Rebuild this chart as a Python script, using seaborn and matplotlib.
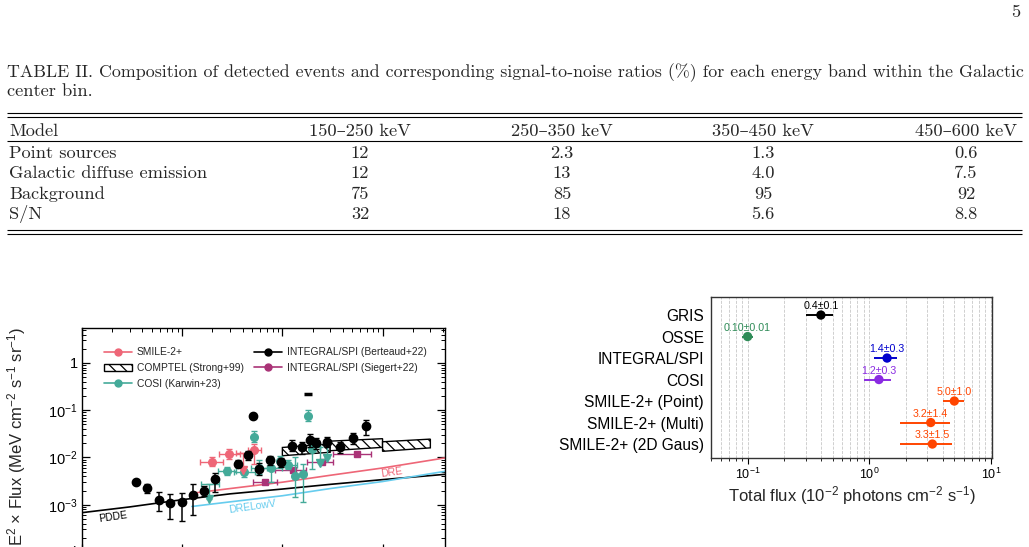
import numpy as np
import pandas as pd
import seaborn as sns
import matplotlib.pyplot as plt
from matplotlib.patches import Polygon, Patch
from matplotlib.lines import Line2D
from matplotlib.ticker import LogLocator, FuncFormatter, NullFormatter

sns.set_theme(style="ticks")
plt.rcParams.update({
    'font.family': ['Liberation Sans', 'DejaVu Sans'],
    'mathtext.fontset': 'custom',
    'mathtext.rm': 'Liberation Sans',
    'mathtext.it': 'Liberation Sans:italic',
    'mathtext.bf': 'Liberation Sans:bold',
    'hatch.linewidth': 0.9,
    'axes.edgecolor': 'black',
    'xtick.color': 'black',
    'ytick.color': 'black',
})

# ---------------- table data ----------------
caption = ["TABLE II. Composition of detected events and corresponding signal-to-noise ratios (%) "
           "for each energy band within the Galactic",
           "center bin."]
bands = ["150–250 keV", "250–350 keV", "350–450 keV", "450–600 keV"]
models = ["Point sources", "Galactic diffuse emission", "Background", "S/N"]
tab_vals = [["12", "2.3", "1.3", "0.6"],
            ["12", "13", "4.0", "7.5"],
            ["75", "85", "95", "92"],
            ["32", "18", "5.6", "8.8"]]

# ---------------- left panel data (E in MeV, E^2 flux) ----------------
spi_E = [0.0343, 0.045, 0.059, 0.0757, 0.100, 0.128, 0.167, 0.215, 0.361, 0.457, 0.504,
         0.587, 0.75, 0.96, 1.24, 1.58, 1.88, 2.19, 2.82, 3.8, 5.06, 6.87]
spi_F = [3.0e-3, 2.23e-3, 1.29e-3, 1.1e-3, 1.14e-3, 1.62e-3, 1.93e-3, 3.47e-3, 7.4e-3, 0.0115, 0.077,
         5.75e-3, 8.9e-3, 7.9e-3, 0.0179, 0.0164, 0.0239, 0.020, 0.0217, 0.0164, 0.0255, 0.047]
spi_lo = [3.0e-3, 1.76e-3, 7.5e-4, 5.0e-4, 4.6e-4, 6.2e-4, 1.55e-3, 1.9e-3, 6.2e-3, 8.9e-3, 0.077,
          4.2e-3, 6.8e-3, 6.2e-3, 0.0135, 0.0118, 0.0164, 0.0152, 0.0164, 0.0122, 0.0194, 0.0305]
spi_hi = [3.0e-3, 2.8e-3, 1.9e-3, 1.65e-3, 1.8e-3, 2.7e-3, 2.55e-3, 4.8e-3, 8.9e-3, 0.0139, 0.077,
          7.7e-3, 0.011, 9.8e-3, 0.0236, 0.021, 0.032, 0.0259, 0.0267, 0.0209, 0.0327, 0.0624]
spi_cap_E = [1.79]
spi_cap_F = [0.22]

smile_E = [0.20, 0.296, 0.524]
smile_Elo = [0.151, 0.232, 0.45]
smile_Ehi = [0.258, 0.378, 0.61]
smile_F = [8.2e-3, 0.0119, 0.0147]
smile_lo = [6.5e-3, 9.3e-3, 7.4e-3]
smile_hi = [0.0101, 0.0152, 0.0197]
smile_ul_E = [0.40]
smile_ul_Elo = [0.345]
smile_ul_Ehi = [0.467]
smile_ul = [0.0122]
smile_ul_tip = [5.4e-3]

cosi_E = [0.278, 0.417, 0.524, 0.587, 0.767, 0.95, 1.14, 1.34, 1.62, 1.81, 1.99]
cosi_Elo = [0.227, 0.33, 0.524, 0.486, 0.61, 0.95, 0.93, 1.34, 1.62, 1.81, 1.90]
cosi_Ehi = [0.345, 0.53, 0.524, 0.71, 0.99, 0.95, 1.41, 1.34, 1.62, 1.81, 2.10]
cosi_F = [5.1e-3, 4.9e-3, 0.0277, 6.1e-3, 6.0e-3, 8.3e-3, 7.1e-3, 4.1e-3, 4.4e-3, 0.077, 0.0152]
cosi_lo = [4.2e-3, 3.9e-3, 0.021, 4.4e-3, 3.0e-3, 6.2e-3, 5.6e-3, 1.45e-3, 1.13e-3, 0.060, 5.8e-3]
cosi_hi = [6.4e-3, 5.8e-3, 0.037, 8.9e-3, 0.0104, 0.011, 8.9e-3, 0.0101, 7.3e-3, 0.100, 0.0227]
cosi_ul_E = [0.187, 2.35, 2.8]
cosi_ul_Elo = [0.155, 2.35, 2.65]
cosi_ul_Ehi = [0.232, 2.35, 2.95]
cosi_ul = [2.77e-3, 0.0164, 0.0209]
cosi_ul_tip = [1.35e-3, 7.7e-3, 9.6e-3]

sieg_E = [0.668, 1.28, 2.46, 5.55]
sieg_Elo = [0.512, 0.846, 1.77, 3.2]
sieg_Ehi = [0.892, 1.73, 3.2, 7.63]
sieg_F = [3.0e-3, 5.5e-3, 8.2e-3, 0.0119]
sieg_lo = [2.7e-3, 5.0e-3, 7.6e-3, 0.011]
sieg_hi = [3.3e-3, 6.0e-3, 8.8e-3, 0.0128]

comptel_Elo = [1, 3, 10]
comptel_Ehi = [3, 10, 30]
comptel_lo_l = [0.0109, 0.0139, 0.0135]
comptel_lo_r = [0.0129, 0.0164, 0.0160]
comptel_hi_l = [0.0163, 0.0222, 0.0215]
comptel_hi_r = [0.0194, 0.0250, 0.0245]

pdde_E = [0.01, 0.03, 0.1, 0.3, 1, 3, 10, 42]
pdde_F = [6.8e-4, 9.0e-4, 1.28e-3, 1.7e-3, 2.15e-3, 2.7e-3, 3.4e-3, 4.4e-3]
dre_E = [0.125, 0.3, 1, 3, 10, 42]
dre_F = [1.75e-3, 2.2e-3, 3.0e-3, 4.2e-3, 6.0e-3, 9.8e-3]
drelow_E = [0.125, 0.3, 1, 3, 10, 42]
drelow_F = [9.2e-4, 1.15e-3, 1.55e-3, 2.2e-3, 3.1e-3, 5.1e-3]

# ---------------- right panel data ----------------
src_names = ["GRIS", "OSSE", "INTEGRAL/SPI", "COSI",
             "SMILE-2+ (Point)", "SMILE-2+ (Multi)", "SMILE-2+ (2D Gaus)"]
src_flux = [0.4, 0.10, 1.4, 1.2, 5.0, 3.2, 3.3]
src_err = [0.1, 0.01, 0.3, 0.3, 1.0, 1.4, 1.5]
src_text = ["0.4±0.1", "0.10±0.01", "1.4±0.3", "1.2±0.3", "5.0±1.0", "3.2±1.4", "3.3±1.5"]
src_colors = ["black", "seagreen", "mediumblue", "blueviolet", "orangered", "orangered", "orangered"]

PINK, TEAL, PURP, CYAN = "#EE6677", "#44AA99", "#AA3377", "#66CCEE"

W, H = 1029, 547
fig = plt.figure(figsize=(W / 100, H / 100), dpi=100)

# page overlay in pixel coordinates
ax0 = fig.add_axes([0, 0, 1, 1], zorder=-1)
ax0.set_xlim(0, W)
ax0.set_ylim(H, 0)
ax0.axis('off')
ax0.patch.set_visible(False)
rend = fig.canvas.get_renderer()
serif = ['cmr10', 'DejaVu Serif']


def fit_size(s, target):
    t = ax0.text(0, 0, s, fontsize=10, family=serif)
    w = t.get_window_extent(renderer=rend).width
    t.remove()
    return 10 * target / w


fs_tab = fit_size(models[1], 199)
fs_cap = fit_size(caption[0], 1015)

ax0.text(1020, 17, "5", family=serif, fontsize=fs_tab, ha='right', va='baseline')
ax0.text(7, 77, caption[0], family=serif, fontsize=fs_cap, va='baseline')
ax0.text(7, 96, caption[1], family=serif, fontsize=fs_tab, va='baseline')

col_x = [360, 562, 763, 966]
row_y = [158, 178, 199, 219]
ax0.hlines([113, 117], 7, 1022, color='black', lw=0.8)
ax0.hlines([141], 7, 1022, color='black', lw=0.8)
ax0.hlines([230, 234], 7, 1022, color='black', lw=0.8)
ax0.text(9, 136, "Model", family=serif, fontsize=fs_tab, va='baseline')
for cx, b in zip(col_x, bands):
    ax0.text(cx, 136, b, family=serif, fontsize=fs_tab, va='baseline', ha='center')
for ry, m, vals in zip(row_y, models, tab_vals):
    ax0.text(9, ry, m, family=serif, fontsize=fs_tab, va='baseline')
    for cx, v in zip(col_x, vals):
        ax0.text(cx, ry, v, family=serif, fontsize=fs_tab, va='baseline', ha='center')

# ---------------- left panel ----------------
ax = fig.add_axes([82 / W, (H - 552) / H, 363 / W, 224 / H])
ax.set_xscale('log')
ax.set_yscale('log')
ax.set_xlim(0.01, 42)
ax.set_ylim(1e-4, 5.5)


def asym(v, lo, hi):
    v, lo, hi = np.array(v), np.array(lo), np.array(hi)
    return [v - lo, hi - v]


sns.lineplot(x=pdde_E, y=pdde_F, color='black', lw=1.2, ax=ax, estimator=None)
sns.lineplot(x=dre_E, y=dre_F, color=PINK, lw=1.2, ax=ax, estimator=None)
sns.lineplot(x=drelow_E, y=drelow_F, color=CYAN, lw=1.2, ax=ax, estimator=None)
ax.text(0.0204, 5.4e-4, "PDDE", fontsize=7.5, rotation=8, ha='center', va='center', color='black')
ax.text(12.2, 4.9e-3, "DRE", fontsize=7.5, rotation=8, ha='center', va='center', color=PINK)
ax.text(0.5, 8.9e-4, "DRELowV", fontsize=7.5, rotation=8, ha='center', va='center', color=CYAN)

for i in range(len(comptel_Elo)):
    poly = Polygon([(comptel_Elo[i], comptel_lo_l[i]), (comptel_Ehi[i], comptel_lo_r[i]),
                    (comptel_Ehi[i], comptel_hi_r[i]), (comptel_Elo[i], comptel_hi_l[i])],
                   closed=True, facecolor='white', edgecolor='black', hatch='\\\\\\', lw=1.0, zorder=2)
    ax.add_patch(poly)

ax.errorbar(sieg_E, sieg_F, xerr=asym(sieg_E, sieg_Elo, sieg_Ehi), yerr=asym(sieg_F, sieg_lo, sieg_hi),
            fmt='s', color=PURP, ms=4.5, lw=1.0, capsize=2, zorder=3)
ax.errorbar(cosi_E, cosi_F, xerr=asym(cosi_E, cosi_Elo, cosi_Ehi), yerr=asym(cosi_F, cosi_lo, cosi_hi),
            fmt='o', color=TEAL, ms=5.5, lw=1.0, capsize=2, zorder=4)
ax.errorbar(cosi_ul_E, cosi_ul, xerr=asym(cosi_ul_E, cosi_ul_Elo, cosi_ul_Ehi),
            yerr=[np.array(cosi_ul) - np.array(cosi_ul_tip), np.zeros(len(cosi_ul))],
            fmt='none', color=TEAL, lw=1.0, capsize=2, zorder=4)
ax.plot(cosi_ul_E, cosi_ul_tip, 'v', color=TEAL, ms=5.5, zorder=4)
ax.errorbar(smile_E, smile_F, xerr=asym(smile_E, smile_Elo, smile_Ehi), yerr=asym(smile_F, smile_lo, smile_hi),
            fmt='o', color=PINK, ms=5.5, lw=1.0, capsize=2, zorder=5)
ax.errorbar(smile_ul_E, smile_ul, xerr=asym(smile_ul_E, smile_ul_Elo, smile_ul_Ehi),
            yerr=[np.array(smile_ul) - np.array(smile_ul_tip), np.zeros(1)],
            fmt='none', color=PINK, lw=1.0, capsize=2, zorder=5)
ax.plot(smile_ul_E, smile_ul_tip, 'v', color=PINK, ms=5.5, zorder=5)
ax.errorbar(spi_E, spi_F, yerr=asym(spi_F, spi_lo, spi_hi),
            fmt='o', color='black', ms=6, lw=1.1, capsize=2.5, zorder=6)
ax.plot(spi_cap_E, spi_cap_F, '_', color='black', ms=6, mew=2.5, zorder=6)

ax.tick_params(which='both', direction='in', top=True, right=True, colors='black', labelbottom=False)
ax.tick_params(which='major', length=6, width=0.9, labelsize=10.5, pad=3)
ax.tick_params(which='minor', length=3, width=0.7)
ax.yaxis.set_major_locator(LogLocator(base=10, numticks=12))
ax.yaxis.set_minor_locator(LogLocator(base=10, subs=np.arange(2, 10) * 1.0, numticks=50))
ax.yaxis.set_minor_formatter(NullFormatter())
ax.yaxis.set_major_formatter(FuncFormatter(
    lambda v, p: '1' if abs(v - 1) < 1e-9 else r'$10^{%d}$' % round(np.log10(v))))
for s in ax.spines.values():
    s.set_linewidth(1.0)
    s.set_color('black')
ax.set_ylabel(r"E$^2$ × Flux (MeV cm$^{-2}$ s$^{-1}$ sr$^{-1}$)", fontsize=12)
ax.yaxis.set_label_coords(-0.148, 0.515)

handles = [Line2D([], [], color=PINK, marker='o', ms=5, lw=1.2),
           Patch(facecolor='white', edgecolor='black', hatch='\\\\\\'),
           Line2D([], [], color=TEAL, marker='o', ms=5, lw=1.2),
           Line2D([], [], color='black', marker='o', ms=5, lw=1.2),
           Line2D([], [], color=PURP, marker='o', ms=5, lw=1.2)]
labels = ["SMILE-2+", "COMPTEL (Strong+99)", "COSI (Karwin+23)",
          "INTEGRAL/SPI (Berteaud+22)", "INTEGRAL/SPI (Siegert+22)"]
ax.legend(handles, labels, ncol=2, loc='upper left', bbox_to_anchor=(0.035, 0.955), frameon=False,
          fontsize=7.4, handlelength=2.7, columnspacing=1.0, labelspacing=0.55, handletextpad=0.5)

# ---------------- right panel ----------------
ax2 = fig.add_axes([711 / W, (H - 458) / H, 281 / W, 161 / H])
ax2.set_xscale('log')
ypos = np.arange(len(src_names))
for i in range(len(src_names)):
    ax2.errorbar(src_flux[i], ypos[i], xerr=src_err[i], fmt='none', ecolor=src_colors[i], lw=1.4, zorder=3)
df2 = pd.DataFrame({'source': src_names, 'flux': src_flux, 'pos': ypos})
sns.scatterplot(data=df2, x='flux', y='pos', hue='source', palette=src_colors, s=45,
                edgecolor='none', legend=False, ax=ax2, zorder=4)
for i in range(len(src_names)):
    ax2.annotate(src_text[i], (src_flux[i], ypos[i]), xytext=(0, 6.5), textcoords='offset points',
                 ha='center', va='center', fontsize=7.7, color=src_colors[i])
ax2.set_xlim(0.05, 10.2)
ax2.set_ylim(6.65, -0.84)
ax2.set_yticks(ypos)
ax2.set_yticklabels(src_names, fontsize=11.2)
ax2.set_ylabel("")
ax2.tick_params(axis='y', length=0, pad=5)
ax2.tick_params(axis='x', which='major', length=4, width=0.8, direction='out', labelsize=9, pad=2)
ax2.tick_params(axis='x', which='minor', length=2.5, width=0.6, direction='out')
ax2.grid(True, which='both', axis='x', ls='--', color='#c8c8c8', lw=0.6)
ax2.set_axisbelow(True)
for s in ax2.spines.values():
    s.set_linewidth(1.0)
    s.set_color('#333333')
ax2.set_xlabel("Total flux (10$^{-2}$ photons cm$^{-2}$ s$^{-1}$)", fontsize=12, labelpad=2)

fig.savefig("out.png", dpi=100)
